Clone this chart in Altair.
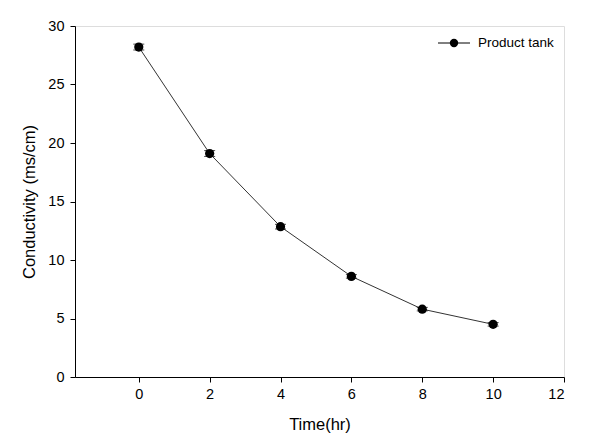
import altair as alt
import pandas as pd

time_hr = [0, 2, 4, 6, 8, 10]
conductivity = [28.2, 19.1, 12.85, 8.6, 5.8, 4.5]
err = [0.25, 0.25, 0.2, 0.15, 0.15, 0.15]
series_name = "Product tank"

df = pd.DataFrame({"t": time_hr, "c": conductivity, "e": err})
df["lo"] = df["c"] - df["e"]
df["hi"] = df["c"] + df["e"]

FONT = "Liberation Sans"
x = alt.X("t:Q", scale=alt.Scale(domain=[-1.8, 12], nice=False, zero=False),
          axis=alt.Axis(values=[0, 2, 4, 6, 8, 10, 12], title="Time(hr)", grid=False,
                        labelFontSize=14.5, titleFontSize=16.5, titleFontWeight="normal",
                        labelPadding=5, titlePadding=16, tickSize=5,
                        domainColor="black", tickColor="black", labelColor="black",
                        titleColor="black", labelFont=FONT, titleFont=FONT))
y = alt.Y("c:Q", scale=alt.Scale(domain=[0, 30], nice=False),
          axis=alt.Axis(values=[0, 5, 10, 15, 20, 25, 30], title="Conductivity (ms/cm)", grid=False,
                        labelFontSize=14.5, titleFontSize=16.5, titleFontWeight="normal",
                        labelPadding=6, titlePadding=10, tickSize=5,
                        domainColor="black", tickColor="black", labelColor="black",
                        titleColor="black", labelFont=FONT, titleFont=FONT))

base = alt.Chart(df)
line = base.mark_line(color="#333333", strokeWidth=1).encode(x=x, y=y)
bars = base.mark_rule(color="black", strokeWidth=1).encode(x="t:Q", y="lo:Q", y2="hi:Q")
caps_lo = base.mark_tick(color="black", size=11, thickness=1, orient="horizontal").encode(x="t:Q", y="lo:Q")
caps_hi = base.mark_tick(color="black", size=11, thickness=1, orient="horizontal").encode(x="t:Q", y="hi:Q")
pts = base.mark_circle(color="black", opacity=1, size=85).encode(x=x, y=y)

leg = pd.DataFrame({"name": [series_name]})
leg_line = alt.Chart(leg).mark_rule(color="black", strokeWidth=1).encode(
    x=alt.value(363), x2=alt.value(395), y=alt.value(17))
leg_pt = alt.Chart(leg).mark_circle(color="black", opacity=1, size=70).encode(
    x=alt.value(379), y=alt.value(17))
leg_txt = alt.Chart(leg).mark_text(align="left", baseline="middle", fontSize=13.5, font=FONT,
                                   color="black").encode(
    x=alt.value(403), y=alt.value(17), text="name:N")

chart = alt.layer(line, bars, caps_lo, caps_hi, pts, leg_line, leg_pt, leg_txt).properties(
    width=489, height=351,
    padding={"left": 13, "top": 10, "right": 5, "bottom": 5},
).configure_view(stroke="black", strokeWidth=1.2).configure(background="white")

chart.save("out.html", embed_options={"renderer": "svg", "actions": False})
